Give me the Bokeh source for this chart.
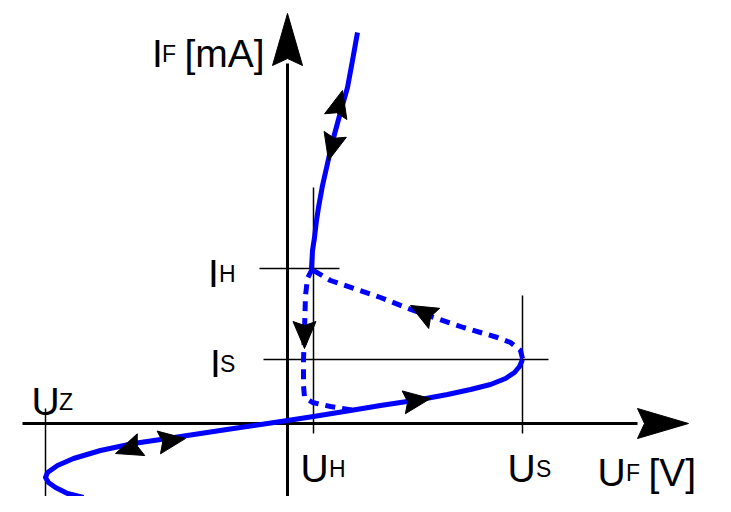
import numpy as np
from bokeh.plotting import figure
from bokeh.models import Range1d
from bokeh.embed import file_html
from bokeh.resources import INLINE
from bokeh.core.properties import value

# ---- characteristic curve (schematic units: U to the right, I upward) ----
# forward-blocking / reverse branch (solid), from reverse end up to breakover point U_S
low_u = [-204, -220, -232, -239, -242, -240, -230, -214, -187, -154, -120, -87, -54, -20, 0,
         26, 63, 93, 133, 160, 183, 203, 218, 227, 232, 235]
low_i = [-74, -70, -64, -59, -54, -49, -42, -35, -27, -20, -15, -10, -5, 0, 3,
         7, 13, 18, 24, 29, 34, 39, 45, 51, 57, 64]
# conducting branch (solid), from holding point upward
on_u = [24, 25, 27, 29, 31, 35, 40, 44, 48, 54, 60, 65, 70]
on_i = [155, 173, 186, 203, 216, 238, 260, 278, 293, 315, 336, 363, 391]
# switching from U_S to holding point (dashed)
sw_u = [235, 233, 223, 210, 176, 126, 93, 43, 26]
sw_i = [65, 73, 81, 86, 96, 113, 126, 143, 153]
# falling back from holding point (dashed)
back_u = [25, 20, 18, 17, 16, 16, 17, 25, 43, 68]
back_i = [155, 145, 128, 93, 63, 38, 26, 21, 17, 13]

# direction arrows on the curve: tip position and direction (degrees)
arr_u = [55, 41, 123, 17, 143, -172, -102]
arr_i = [333, 263, 118, 75, 25, -30, -15]
arr_ang = [75.5, -104.5, 151.4, -90.0, 8.1, -160.9, 8.4]

# characteristic values
U_Z, U_H, U_S = -242, 26, 235
I_H, I_S = 155, 64

# axes extents
axis_u = [-265, 350]
axis_i = [-95, 360]
axis_tip_u, axis_tip_i = 401, 410

# labels: main letter, subscript, units
lab_main = ["I", "I", "I", "U", "U", "U", "U"]
lab_main_u = [-135.5, -79.5, -77.5, -256, 13, 220, 310]
lab_main_i = [370, 150, 60, 22, -45, -45, -49]
lab_sub = ["F", "H", "S", "Z", "H", "S", "F"]
lab_sub_u = [-125.5, -68.5, -67.5, -228.5, 41.5, 248.5, 338.5]
unit_text = ["[mA]", "[V]"]
unit_u = [-103, 361]
unit_i = [370, -49]

BLUE = "#0000ff"

p = figure(width=715, height=496, x_range=Range1d(-287, 428), y_range=Range1d(-73, 423),
           output_backend="svg", toolbar_location=None,
           x_axis_location=None, y_axis_location=None,
           min_border=0, min_border_left=0, min_border_right=0,
           min_border_top=0, min_border_bottom=0)
p.grid.visible = False
p.outline_line_color = None
p.background_fill_color = "white"
p.border_fill_color = "white"


def arrow_poly(tx, ty, ang, L, W, notch):
    t = np.deg2rad(ang)
    d = np.array([np.cos(t), np.sin(t)])
    n = np.array([-np.sin(t), np.cos(t)])
    tip = np.array([tx, ty])
    bl = tip - L * d + W * n
    nt = tip - (L - notch) * d
    br = tip - L * d - W * n
    pts = [tip, bl, nt, br]
    return [q[0] for q in pts], [q[1] for q in pts]


# guide lines
gl = dict(line_color="black", line_width=1.5)
p.line([U_Z, U_Z], [15, -82], **gl)
p.line([U_H, U_H], [236, -10], **gl)
p.line([U_S, U_S], [128, -10], **gl)
p.line([-28, 52], [I_H, I_H], **gl)
p.line([-24, 261], [I_S, I_S], **gl)

# axes
p.line(axis_u, [0, 0], line_color="black", line_width=3)
p.line([0, 0], axis_i, line_color="black", line_width=3)
ax_x, ax_y = arrow_poly(axis_tip_u, 0, 0, 51, 15, 7)
ay_x, ay_y = arrow_poly(0, axis_tip_i, 90, 52, 15, 7)
p.patches([ax_x, ay_x], [ax_y, ay_y], fill_color="black", line_color="black", line_width=1)

# curve
p.line(low_u, low_i, line_color=BLUE, line_width=5, line_join="round")
p.line(on_u, on_i, line_color=BLUE, line_width=5, line_join="round")
p.line(sw_u, sw_i, line_color=BLUE, line_width=5, line_dash="10 7")
p.line(back_u, back_i, line_color=BLUE, line_width=5, line_dash="10 7")

# curve arrows
xs, ys = [], []
for tx, ty, a in zip(arr_u, arr_i, arr_ang):
    px_, py_ = arrow_poly(tx, ty, a, 27, 11.5, 4)
    xs.append(px_)
    ys.append(py_)
p.patches(xs, ys, fill_color="black", line_color="black", line_width=1)

# labels
font = value("Liberation Sans")
p.text(lab_main_u, lab_main_i, text=lab_main, text_font=font, text_font_size="39px",
       text_color="black", text_align="left", text_baseline="alphabetic")
p.text(lab_sub_u, lab_main_i, text=lab_sub, text_font=font, text_font_size="23px",
       text_color="black", text_align="left", text_baseline="alphabetic")
p.text(unit_u, unit_i, text=unit_text, text_font=font, text_font_size="39px",
       text_color="black", text_align="left", text_baseline="alphabetic")

open("out.html", "w").write(file_html(p, INLINE))
